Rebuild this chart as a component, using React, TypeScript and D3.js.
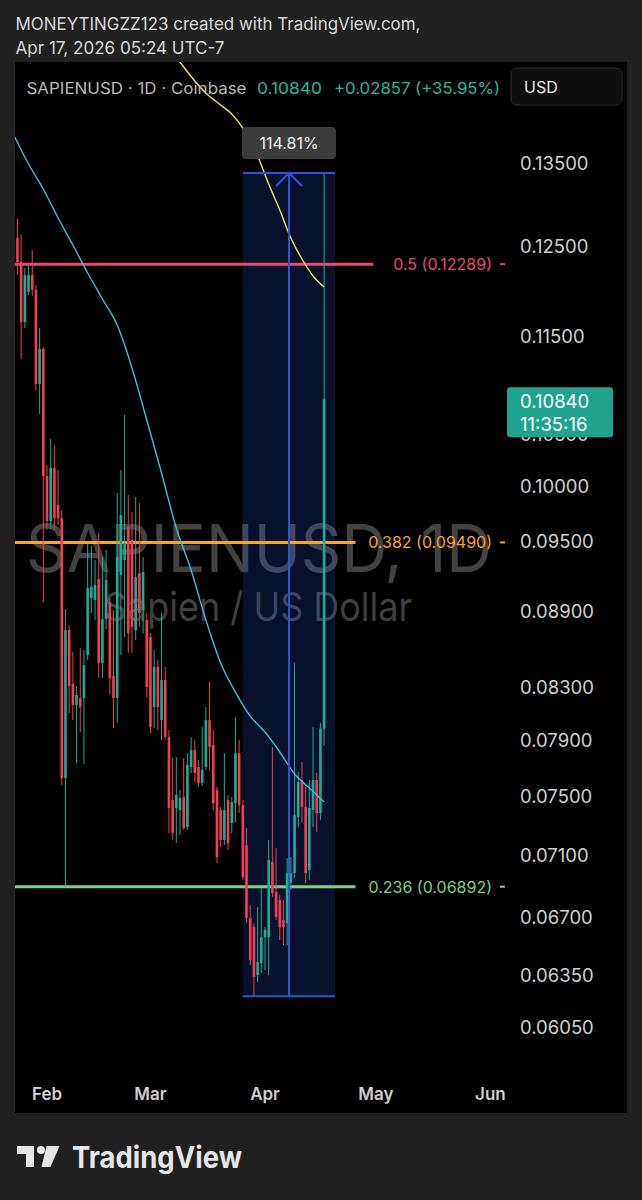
import React from "react";
import * as d3 from "d3";

// ---------- data ----------
const dates = [
  "2026-01-23","2026-01-24","2026-01-25","2026-01-26","2026-01-27","2026-01-28","2026-01-29","2026-01-30","2026-01-31",
  "2026-02-01","2026-02-02","2026-02-03","2026-02-04","2026-02-05","2026-02-06","2026-02-07","2026-02-08","2026-02-09","2026-02-10",
  "2026-02-11","2026-02-12","2026-02-13","2026-02-14","2026-02-15","2026-02-16","2026-02-17","2026-02-18","2026-02-19","2026-02-20",
  "2026-02-21","2026-02-22","2026-02-23","2026-02-24","2026-02-25","2026-02-26","2026-02-27","2026-02-28",
  "2026-03-01","2026-03-02","2026-03-03","2026-03-04","2026-03-05","2026-03-06","2026-03-07","2026-03-08","2026-03-09","2026-03-10",
  "2026-03-11","2026-03-12","2026-03-13","2026-03-14","2026-03-15","2026-03-16","2026-03-17","2026-03-18","2026-03-19","2026-03-20",
  "2026-03-21","2026-03-22","2026-03-23","2026-03-24","2026-03-25","2026-03-26","2026-03-27","2026-03-28","2026-03-29","2026-03-30","2026-03-31",
  "2026-04-01","2026-04-02","2026-04-03","2026-04-04","2026-04-05","2026-04-06","2026-04-07","2026-04-08","2026-04-09","2026-04-10",
  "2026-04-11","2026-04-12","2026-04-13","2026-04-14","2026-04-15","2026-04-16","2026-04-17",
];
const opens = [
  0.12372,0.12591,0.12314,0.11646,0.11976,0.12166,0.11998,0.10994,0.11358,
  0.10093,0.0968,0.10169,0.09825,0.09707,0.07624,0.08748,0.0832,0.08159,0.08212,
  0.08212,0.08547,0.09012,0.08995,0.09172,0.08484,0.08838,0.08978,0.08382,0.08212,
  0.09206,0.09336,0.09627,0.09511,0.08748,0.09223,0.08912,0.0883,
  0.08691,0.08144,0.08453,0.08046,0.08351,0.0792,0.0747,0.07415,0.07401,0.07491,
  0.07285,0.07703,0.07825,0.07703,0.07589,0.07703,0.08046,0.07861,0.0754,0.07401,
  0.07198,0.0747,0.07312,0.07449,0.07803,0.07435,0.07164,0.06694,0.06638,0.06349,0.0642,
  0.06577,0.06577,0.07052,0.06858,0.06807,0.06682,0.06663,0.06916,0.0698,0.07353,
  0.0761,0.07422,0.07,0.07401,0.0761,0.0738,0.07983,
];
const highs = [
  0.13288,0.12816,0.12638,0.12246,0.1228,0.12452,0.12054,0.11581,0.11379,
  0.10197,0.10447,0.10388,0.1015,0.0978,0.0892,0.08789,0.08571,0.08305,0.08603,
  0.08587,0.09476,0.09458,0.09336,0.09573,0.09362,0.09423,0.09012,0.08912,0.09935,
  0.1015,0.10683,0.09917,0.09762,0.09899,0.09843,0.09362,0.08887,
  0.08724,0.08587,0.08508,0.08887,0.08453,0.07972,0.07767,0.07774,0.0754,0.07767,
  0.07803,0.0792,0.07898,0.07753,0.07994,0.08144,0.08336,0.07972,0.07561,0.07422,
  0.07803,0.07505,0.07491,0.08068,0.07898,0.0747,0.07278,0.06775,0.06663,0.06763,0.06884,
  0.06638,0.07198,0.07847,0.07144,0.06839,0.06807,0.07078,0.07085,0.08484,0.07667,
  0.07739,0.07561,0.0761,0.07994,0.0766,0.08024,0.13375,
];
const lows = [
  0.12144,0.12166,0.11253,0.11581,0.11942,0.11931,0.10933,0.10692,0.08978,
  0.096,0.09609,0.096,0.09644,0.07575,0.0689,0.08098,0.08046,0.07731,0.07957,
  0.07724,0.08508,0.08887,0.0883,0.08367,0.08367,0.08756,0.08243,0.07987,0.08024,
  0.08547,0.08691,0.08563,0.08563,0.08667,0.08772,0.08724,0.0822,
  0.0795,0.07987,0.07972,0.07898,0.07898,0.07245,0.07198,0.07178,0.07231,0.07265,
  0.07265,0.0766,0.07596,0.07561,0.07568,0.07681,0.07681,0.07401,0.07045,0.07151,
  0.07164,0.07131,0.07245,0.07318,0.0738,0.06935,0.06663,0.06408,0.06221,0.06308,0.06361,
  0.06379,0.06349,0.06826,0.06682,0.06559,0.06528,0.06528,0.06871,0.06948,0.07285,
  0.07318,0.06916,0.06935,0.07285,0.07251,0.07332,0.07861,
];
const closes = [
  0.12591,0.12314,0.11646,0.12166,0.12166,0.11998,0.10994,0.11358,0.10093,
  0.0968,0.10169,0.09707,0.09707,0.07624,0.08748,0.08305,0.08159,0.08235,0.08144,
  0.08468,0.09096,0.09105,0.09121,0.08484,0.08838,0.09164,0.08367,0.08212,0.09362,
  0.09734,0.09485,0.08724,0.08772,0.09189,0.08887,0.09232,0.08297,
  0.07994,0.08453,0.08144,0.08351,0.0792,0.07415,0.07245,0.07505,0.07484,0.07278,
  0.07717,0.07825,0.0766,0.07589,0.07681,0.08046,0.07847,0.07449,0.07085,0.07198,
  0.07401,0.07178,0.07456,0.07803,0.07435,0.06954,0.06694,0.06438,0.06338,0.06426,0.06577,
  0.0662,0.07065,0.06852,0.067,0.06638,0.06638,0.0698,0.0698,0.07366,0.07596,
  0.07422,0.0698,0.07415,0.0761,0.0738,0.07983,0.1084,
];

const maFastDates = ["2026-01-23","2026-01-27","2026-01-31","2026-02-04","2026-02-08","2026-02-12","2026-02-16","2026-02-20","2026-02-24","2026-02-28","2026-03-04","2026-03-08","2026-03-12","2026-03-16","2026-03-20","2026-03-24","2026-03-28","2026-04-01","2026-04-05","2026-04-09","2026-04-13","2026-04-17"];
const maFastValues = [0.13856,0.13487,0.13178,0.12828,0.1251,0.12189,0.11898,0.11614,0.11159,0.10633,0.10122,0.09617,0.09249,0.0883,0.08484,0.08258,0.08076,0.07957,0.07811,0.07653,0.07554,0.07456];
const maSlowDates = ["2026-03-07","2026-03-10","2026-03-13","2026-03-16","2026-03-20","2026-03-23","2026-03-26","2026-03-30","2026-04-02","2026-04-05","2026-04-08","2026-04-11","2026-04-14","2026-04-17"];
const maSlowValues = [0.14966,0.14759,0.14569,0.14407,0.14247,0.14129,0.13946,0.13588,0.13239,0.12923,0.12591,0.12348,0.12155,0.12031];

const fibLevels = ["0.5", "0.382", "0.236"];
const fibPrices = [0.12289, 0.0949, 0.06892];
const fibColors = ["#e84a6f", "#f7a531", "#7fcf85"];

const priceTicks = [0.135, 0.125, 0.115, 0.105, 0.1, 0.095, 0.089, 0.083, 0.079, 0.075, 0.071, 0.067, 0.0635, 0.0605];
const monthTicks = ["2026-02-01", "2026-03-01", "2026-04-01", "2026-05-01", "2026-06-01"];

const measureStart = "2026-03-26";
const measureEnd = "2026-04-20";
const measureLow = 0.06226;
const measureHigh = 0.13375;
const measureLabel = "114.81%";

const lastPrice = 0.1084;
const countdown = "11:35:16";
const symbolText = "SAPIENUSD · 1D · Coinbase";
const changeText = "+0.02857 (+35.95%)";

// ---------- layout ----------
const W = 642;
const H = 1200;
const panel = { x: 15, y: 62, w: 612, h: 1051 };
const plotRight = 505;
const UP = "#22ab94";
const DOWN = "#f23f56";
const FONT = "Inter, 'Noto Sans', Roboto, sans-serif";

const parse = (s: string) => new Date(s + "T00:00:00Z");

export default function App() {
  React.useEffect(() => {
    document.body.style.margin = "0";
    document.body.style.background = "#202020";
  }, []);

  const x = d3
    .scaleUtc()
    .domain([parse("2026-02-01"), parse("2026-06-01")])
    .range([47, 490.4]);
  const y = d3.scaleLog().domain([0.0605, 0.135]).range([1027, 163]);
  const fmt = d3.format(".5f");
  const monthFmt = d3.utcFormat("%b");

  const candles = dates.map((d, i) => ({
    x: x(parse(d)),
    o: opens[i],
    h: highs[i],
    l: lows[i],
    c: closes[i],
  }));
  const bodyW = 2.6;

  const line = d3
    .line<[number, number]>()
    .x((d) => d[0])
    .y((d) => d[1])
    .curve(d3.curveMonotoneX);
  const fastPath = line(maFastDates.map((d, i) => [x(parse(d)), y(maFastValues[i])]));
  const slowPath = line(maSlowDates.map((d, i) => [x(parse(d)), y(maSlowValues[i])]));

  const mx0 = x(parse(measureStart));
  const mx1 = x(parse(measureEnd));
  const mxc = (mx0 + mx1) / 2;
  const myTop = y(measureHigh);
  const myBot = y(measureLow);

  const lastY = y(lastPrice);
  const labelEndX = 492;

  return (
    <svg width={W} height={H} style={{ display: "block" }} fontFamily={FONT}>
      <defs>
        <clipPath id="plotClip">
          <rect x={panel.x} y={panel.y} width={plotRight - panel.x} height={panel.h} />
        </clipPath>
      </defs>
      <rect x={0} y={0} width={W} height={H} fill="#202020" />

      {/* header */}
      <text x={15.5} y={30} fontSize={17} fill="#d8d8d8" textLength={405} lengthAdjust="spacingAndGlyphs">
        MONEYTINGZZ123 created with TradingView.com,
      </text>
      <text x={15.5} y={54} fontSize={17} fill="#d8d8d8" textLength={209} lengthAdjust="spacingAndGlyphs">
        Apr 17, 2026 05:24 UTC-7
      </text>

      {/* panel */}
      <rect x={panel.x} y={panel.y} width={panel.w} height={panel.h} fill="#000" />

      <g clipPath="url(#plotClip)">
        {/* watermark */}
        <text x={26} y={572} fontSize={66} fill="rgba(255,255,255,0.26)" textLength={466} lengthAdjust="spacingAndGlyphs">
          SAPIENUSD, 1D
        </text>
        <text x={104} y={621} fontSize={40} fill="rgba(255,255,255,0.26)" textLength={308} lengthAdjust="spacingAndGlyphs">
          Sapien / US Dollar
        </text>

        {/* measure box fill */}
        <rect x={mx0} y={myTop} width={mx1 - mx0} height={myBot - myTop} fill="rgba(41,98,255,0.17)" />

        {/* fib lines */}
        {fibLevels.map((lv, i) => {
          const label = `${lv} (${fmt(fibPrices[i])})`;
          const end = labelEndX - label.length * 8.9 - 3;
          return (
            <line key={lv} x1={panel.x} x2={end} y1={y(fibPrices[i])} y2={y(fibPrices[i])} stroke={fibColors[i]} strokeWidth={3} />
          );
        })}

        {/* candles */}
        {candles.map((c, i) => {
          const up = c.c >= c.o;
          const col = up ? UP : DOWN;
          const yt = y(Math.max(c.o, c.c));
          const yb = y(Math.min(c.o, c.c));
          return (
            <g key={i}>
              <line x1={c.x} x2={c.x} y1={y(c.h)} y2={y(c.l)} stroke={col} strokeWidth={1} />
              <rect x={c.x - bodyW / 2} y={yt} width={bodyW} height={Math.max(1, yb - yt)} fill={col} />
            </g>
          );
        })}

        {/* moving averages */}
        <path d={fastPath || ""} fill="none" stroke="#3fc0d8" strokeWidth={1.4} />
        <path d={slowPath || ""} fill="none" stroke="#f2e65a" strokeWidth={1.4} />

        {/* measure lines */}
        <line x1={mx0} x2={mx1} y1={myTop} y2={myTop} stroke="#2c55d9" strokeWidth={2} />
        <line x1={mx0} x2={mx1} y1={myBot} y2={myBot} stroke="#2c55d9" strokeWidth={2} />
        <line x1={mxc} x2={mxc} y1={myBot} y2={myTop} stroke="#2c55d9" strokeWidth={2} />
        <polyline
          points={`${mxc - 13},${myTop + 13} ${mxc},${myTop} ${mxc + 13},${myTop + 13}`}
          fill="none"
          stroke="#2c55d9"
          strokeWidth={2}
        />
      </g>

      {/* fib labels */}
      {fibLevels.map((lv, i) => (
        <g key={lv}>
          <text x={labelEndX} y={y(fibPrices[i])} fontSize={16} fill={fibColors[i]} textAnchor="end" dominantBaseline="central">
            {`${lv} (${fmt(fibPrices[i])})`}
          </text>
          <line x1={500} x2={505} y1={y(fibPrices[i])} y2={y(fibPrices[i])} stroke={fibColors[i]} strokeWidth={2} />
        </g>
      ))}

      {/* measure label */}
      <rect x={mxc - 47} y={myTop - 46} width={94} height={32} rx={4} fill="#3c3c3c" />
      <text x={mxc} y={myTop - 30} fontSize={16} fill="#f0f0f0" textAnchor="middle" dominantBaseline="central">
        {measureLabel}
      </text>

      {/* legend */}
      <text x={26.5} y={88} fontSize={16} fill="#b9b9b9" dominantBaseline="central" textLength={220} lengthAdjust="spacingAndGlyphs">
        {symbolText}
      </text>
      <text x={257} y={88} fontSize={16} fill="#2db69c" dominantBaseline="central" textLength={65} lengthAdjust="spacingAndGlyphs">
        {fmt(lastPrice)}
      </text>
      <text x={334} y={88} fontSize={16} fill="#2db69c" dominantBaseline="central" textLength={166} lengthAdjust="spacingAndGlyphs">
        {changeText}
      </text>
      <rect x={511} y={68} width={111} height={37} rx={6} fill="#0e0e0e" stroke="#2c2c2c" strokeWidth={1} />
      <text x={524} y={87} fontSize={16} fill="#e8e8e8" dominantBaseline="central">
        USD
      </text>

      {/* price axis */}
      {priceTicks.map((p) => (
        <text key={p} x={520} y={y(p)} fontSize={18.5} fill="#d0d0d0" dominantBaseline="central">
          {fmt(p)}
        </text>
      ))}
      <rect x={507} y={lastY - 12} width={106} height={50} rx={3} fill="#1fa38d" />
      <text x={520} y={lastY + 2} fontSize={18.5} fill="#ffffff" dominantBaseline="central">
        {fmt(lastPrice)}
      </text>
      <text x={520} y={lastY + 25} fontSize={18.5} fill="#ffffff" dominantBaseline="central">
        {countdown}
      </text>

      {/* time axis */}
      <g clipPath="url(#plotClip)">
        {monthTicks.map((m) => (
          <text key={m} x={x(parse(m))} y={1094} fontSize={17} fontWeight={600} fill="#cfcfcf" textAnchor="middle" dominantBaseline="central">
            {monthFmt(parse(m))}
          </text>
        ))}
      </g>

      {/* TradingView logo */}
      <g fill="#e6e6e6">
        <path d="M17 1146 H34 V1167 H26 V1154 H17 Z" />
        <circle cx={41} cy={1150} r={4} />
        <path d="M46.5 1146 L59.5 1146 L50.5 1167 L41.5 1167 Z" />
        <text x={72} y={1168} fontSize={30} fontWeight={700} textLength={170} lengthAdjust="spacingAndGlyphs">
          TradingView
        </text>
      </g>
    </svg>
  );
}
